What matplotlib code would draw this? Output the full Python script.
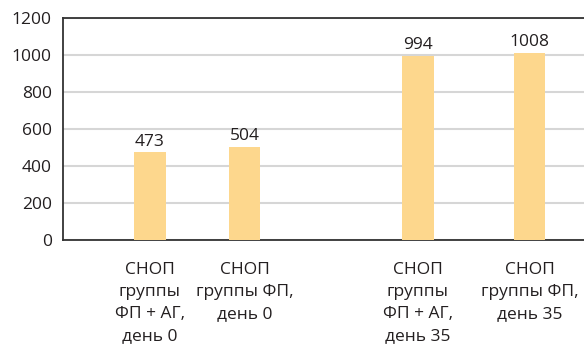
import matplotlib
matplotlib.use("Agg")
import matplotlib.pyplot as plt

plt.rcParams['font.family'] = ['Open Sans', 'DejaVu Sans']

categories = [
    "СНОП\nгруппы\nФП + АГ,\nдень 0",
    "СНОП\nгруппы ФП,\nдень 0",
    "СНОП\nгруппы\nФП + АГ,\nдень 35",
    "СНОП\nгруппы ФП,\nдень 35",
]
values = [473, 504, 994, 1008]
yticks = [0, 200, 400, 600, 800, 1000, 1200]

text_color = "#231f20"
bar_color = "#fdd78d"

fig = plt.figure(figsize=(5.84, 3.49), dpi=100)
ax = fig.add_axes([63 / 584, 1 - 240 / 349, 1 - 63 / 584, (240 - 17.5) / 349])

xpos = [0.0, 1.0, 2.836, 4.016]
bars = ax.bar(xpos, values, width=0.33, color=bar_color, zorder=3)

for rect, v in zip(bars, values):
    ax.annotate(str(v), (rect.get_x() + rect.get_width() / 2, v),
                xytext=(0, 2), textcoords="offset points",
                ha="center", va="bottom", fontsize=12.5, color=text_color)

ax.set_xlim(-0.92, 4.593)
ax.set_ylim(0, 1200)
ax.set_yticks(yticks)
ax.set_yticklabels([str(t) for t in yticks])
ax.set_xticks(xpos)
ax.set_xticklabels(categories, linespacing=1.5)

ax.yaxis.grid(True, color="#d6d6d6", linewidth=1.5, zorder=0)
ax.set_axisbelow(True)

ax.tick_params(axis="y", length=0, pad=8, labelsize=12.5, labelcolor=text_color)
ax.tick_params(axis="x", length=0, pad=16, labelsize=12.5, labelcolor=text_color)

for side in ("left", "bottom", "top"):
    ax.spines[side].set_color("#333333")
    ax.spines[side].set_linewidth(1.3)
ax.spines["right"].set_visible(False)

fig.savefig("out.png", dpi=100)
